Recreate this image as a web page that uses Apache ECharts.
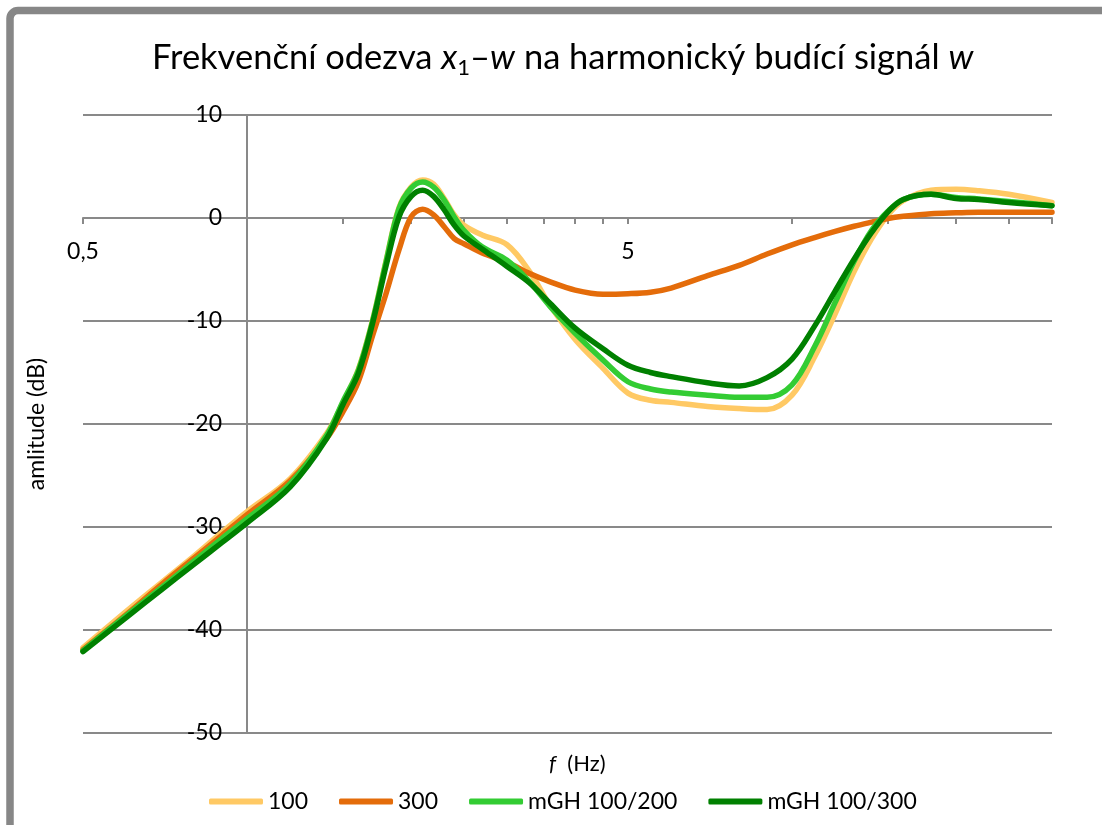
<!DOCTYPE html>
<html><head><meta charset="utf-8">
<script src="https://cdn.jsdelivr.net/npm/echarts@6/dist/echarts.min.js"></script>
<style>html,body{margin:0;padding:0;background:#fff}#c{width:1102px;height:825px}</style>
</head><body><div id="c"></div>
<script>
// ---- data ----
const freq = [0.5,0.6,0.7,0.8,0.9,1.0,1.2,1.4,1.5,1.6,1.7,1.8,1.9,2.0,2.1,2.2,2.3,2.4,2.5,2.7,3.0,3.3,3.6,4.0,4.5,5.0,5.5,6.0,7.0,8.0,9.0,10,11,12,13,14,15,16,18,20,22,25,30];
const s100 = [-41.7,-38.2,-35.3,-32.8,-30.5,-28.5,-25.3,-20.9,-17.9,-14.7,-9.9,-4.1,1.0,3.0,3.7,3.3,1.9,0.3,-0.7,-1.65,-2.6,-5.2,-8.5,-11.8,-14.6,-17.0,-17.7,-17.9,-18.3,-18.5,-18.6,-17.2,-13.5,-9.3,-5.2,-2.0,0.3,1.7,2.7,2.8,2.65,2.3,1.5];
const s300 = [-41.9,-38.5,-35.5,-33.0,-30.8,-28.8,-25.5,-21.4,-18.8,-15.9,-11.4,-7.3,-3.1,0.1,0.85,0.3,-0.85,-2.0,-2.5,-3.4,-4.3,-5.4,-6.2,-7.0,-7.4,-7.35,-7.2,-6.8,-5.6,-4.6,-3.5,-2.6,-1.9,-1.3,-0.8,-0.4,-0.05,0.16,0.42,0.5,0.55,0.55,0.55];
const sGH200 = [-42.0,-38.6,-35.8,-33.3,-31.1,-29.2,-25.8,-21.1,-17.8,-14.8,-10.0,-4.2,0.9,2.9,3.5,3.0,1.75,0.1,-1.2,-2.8,-4.1,-6.2,-8.6,-11.2,-13.8,-15.9,-16.6,-16.9,-17.2,-17.4,-17.4,-16.2,-12.5,-8.2,-4.2,-1.2,0.65,1.8,2.3,2.0,1.85,1.6,1.2];
const sGH300 = [-42.1,-38.8,-36.0,-33.6,-31.5,-29.6,-26.1,-21.4,-18.1,-15.1,-10.2,-4.6,0.1,2.1,2.7,2.1,0.8,-0.7,-1.75,-3.0,-4.7,-6.3,-8.3,-10.7,-12.7,-14.3,-15.0,-15.4,-16.0,-16.3,-15.5,-13.7,-10.5,-7.1,-4.0,-1.4,0.6,1.8,2.3,1.9,1.8,1.5,1.2];
const seriesNames = ['100','300','mGH 100/200','mGH 100/300'];
const xTickValues = [0.5,1,1.5,2,2.5,3,3.5,4,4.5,5,10,15,20,25,30];
const xLabelValues = [0.5,5];
const yMin = -50, yMax = 10, yStep = 10;
const xMin = 0.5, xMax = 30, yCross = 1, xCross = 0;

// ---- styling ----
const colors = ['#FFC964','#E46C0A','#33CC33','#008000'];
const FONT = 'Lato';
const axisGray = '#898989';
const W = 1102, H = 825;
const GRID = {left:83, right:50, top:115, bottom:92};
const plotW = W - GRID.left - GRID.right;
const plotH = H - GRID.top - GRID.bottom;
const yAxisOffset = -plotW * Math.log10(yCross/xMin) / Math.log10(xMax/xMin);
const xAxisOffset = -plotH * (xCross - yMin) / (yMax - yMin);

const allVals = [s100, s300, sGH200, sGH300];
const chart = echarts.init(document.getElementById('c'), null, {renderer:'canvas'});
chart.setOption({
  backgroundColor:'#fff',
  animation:false,
  title:[{
    text:'{n|Frekvenční odezva }{i|x}{s|1}{n|–}{i|w}{n| na harmonický budící signál }{i|w}',
    left:147, top:32,
    textStyle:{rich:{
      n:{fontFamily:FONT,fontSize:34.5,fontWeight:'normal',lineHeight:42,color:'#000'},
      i:{fontFamily:FONT,fontSize:34.5,fontWeight:'normal',lineHeight:42,fontStyle:'italic',color:'#000'},
      s:{fontFamily:FONT,fontSize:22,fontWeight:'normal',lineHeight:24,verticalAlign:'bottom',color:'#000'}
    }}
  },{
    text:'{i|f}{n|  (Hz)}', left:544, top:748,
    textStyle:{rich:{
      n:{fontFamily:FONT,fontSize:22,fontWeight:'normal',color:'#000'},
      i:{fontFamily:FONT,fontSize:22,fontWeight:'normal',fontStyle:'italic',color:'#000'}
    }}
  }],
  legend:{
    data:seriesNames.map(n=>({name:n,icon:'roundRect'})), left:204, top:785,
    itemWidth:54, itemHeight:6, itemGap:31,
    textStyle:{fontFamily:FONT,fontSize:23,color:'#000'}
  },
  grid:GRID,
  xAxis:{
    type:'log', logBase:10, min:xMin, max:xMax, position:'bottom', offset:xAxisOffset,
    axisLine:{show:true,onZero:false,lineStyle:{color:axisGray,width:2}},
    axisTick:{show:true,length:6,customValues:xTickValues,lineStyle:{color:axisGray,width:2}},
    axisLabel:{customValues:xLabelValues,formatter:v=>String(v).replace('.',','),fontFamily:FONT,fontSize:23,color:'#000',margin:22},
    splitLine:{show:false}, minorTick:{show:false}
  },
  yAxis:{
    type:'value', min:yMin, max:yMax, interval:yStep, position:'left', offset:yAxisOffset,
    axisLine:{show:true,onZero:false,lineStyle:{color:axisGray,width:2}},
    axisTick:{show:true,length:6,lineStyle:{color:axisGray,width:2}},
    axisLabel:{fontFamily:FONT,fontSize:23,color:'#000',margin:25},
    splitLine:{show:true,lineStyle:{color:axisGray,width:2}}
  },
  graphic:[
    {type:'rect',silent:true,z:100,shape:{x:10,y:10.5,width:1300,height:1000,r:8},style:{fill:'none',stroke:'#878787',lineWidth:7.5}},
    {type:'text',x:37,y:424,rotation:Math.PI/2,style:{text:'amlitude (dB)',font:'23px Lato',fill:'#000',align:'center',verticalAlign:'middle'}}
  ],
  series:seriesNames.map((n,i)=>({
    name:n,type:'line',smooth:0.35,symbol:'none',
    data:freq.map((f,j)=>[f,allVals[i][j]]),
    lineStyle:{width:5.5,color:colors[i],cap:'round'},itemStyle:{color:colors[i]}
  }))
});
</script></body></html>
